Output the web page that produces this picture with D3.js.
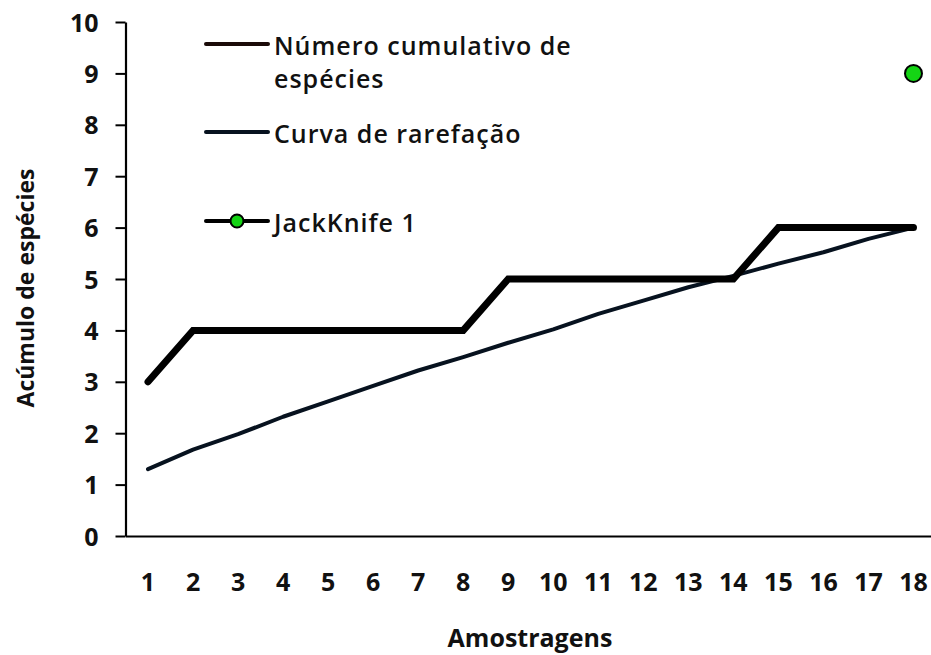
<!DOCTYPE html>
<html>
<head>
<meta charset="utf-8">
<script src="https://cdn.jsdelivr.net/npm/d3@7"></script>
<style>
  html, body { margin: 0; padding: 0; background: #fff; }
  svg { display: block; }
  svg text { font-family: "Open Sans", "Noto Sans", sans-serif; }
</style>
</head>
<body>
<div id="chart"></div>
<script>
const samples = d3.range(1, 19).map(String);
const cumulative = [3, 4, 4, 4, 4, 4, 4, 4, 5, 5, 5, 5, 5, 5, 6, 6, 6, 6];
const rarefaction = [1.3, 1.68, 1.98, 2.32, 2.62, 2.92, 3.22, 3.48, 3.76, 4.02, 4.32, 4.58, 4.84, 5.06, 5.3, 5.52, 5.78, 6.0];
const jackknife = [null, null, null, null, null, null, null, null, null, null, null, null, null, null, null, null, null, 9];
const yTicks = [0, 1, 2, 3, 4, 5, 6, 7, 8, 9, 10];
const legendLabels = [["Número cumulativo de", "espécies"], ["Curva de rarefação"], ["JackKnife 1"]];

const width = 931, height = 655;
const margin = { top: 22, right: -5, bottom: 119, left: 125.5 };
const FONT = '"Open Sans", "Noto Sans", sans-serif';

const svg = d3.select("#chart").append("svg")
    .attr("width", width)
    .attr("height", height);

const x = d3.scaleBand()
    .domain(samples)
    .range([margin.left, width - margin.right])
    .padding(0);

const y = d3.scaleLinear()
    .domain([0, 10])
    .range([height - margin.bottom, margin.top]);

const cx = (d, i) => x(samples[i]) + x.bandwidth() / 2;

// y axis
const yAxis = svg.append("g")
    .attr("transform", `translate(${margin.left},0)`)
    .attr("font-family", FONT)
    .call(d3.axisLeft(y).tickValues(yTicks).tickSize(10).tickPadding(17).tickSizeOuter(0));
yAxis.select(".domain").attr("stroke", "#000").attr("stroke-width", 2.2);
yAxis.selectAll(".tick line").attr("stroke", "#000").attr("stroke-width", 2);
yAxis.selectAll(".tick text")
    .attr("fill", "#111")
    .attr("dy", "0.36em")
    .style("font-size", "25px")
    .style("font-weight", 700);

// x axis
const xAxis = svg.append("g")
    .attr("transform", `translate(0,${y(0)})`)
    .attr("font-family", FONT)
    .call(d3.axisBottom(x).tickSize(0).tickPadding(37).tickSizeOuter(0));
xAxis.select(".domain").attr("stroke", "#000").attr("stroke-width", 2.2);
xAxis.selectAll(".tick text")
    .attr("fill", "#111")
    .style("font-size", "25px")
    .style("font-weight", 700);

// axis titles
svg.append("text")
    .attr("x", 530)
    .attr("y", 647)
    .attr("text-anchor", "middle")
    .attr("fill", "#111")
    .style("font-size", "25px")
    .style("font-weight", 700)
    .text("Amostragens");

svg.append("text")
    .attr("transform", `translate(34,288) rotate(-90)`)
    .attr("text-anchor", "middle")
    .attr("fill", "#111")
    .style("font-size", "23px")
    .style("font-weight", 700)
    .text("Acúmulo de espécies");

// lines
const line = d3.line()
    .x(cx)
    .y(d => y(d));

svg.append("path")
    .datum(rarefaction)
    .attr("d", line)
    .attr("fill", "none")
    .attr("stroke", "#07121f")
    .attr("stroke-width", 4)
    .attr("stroke-linecap", "round")
    .attr("stroke-linejoin", "round");

svg.append("path")
    .datum(cumulative)
    .attr("d", line)
    .attr("fill", "none")
    .attr("stroke", "#000")
    .attr("stroke-width", 7)
    .attr("stroke-linecap", "round")
    .attr("stroke-linejoin", "miter");

svg.append("g")
    .selectAll("circle")
    .data(jackknife.map((v, i) => ({ v, i })).filter(d => d.v !== null))
    .join("circle")
    .attr("cx", d => cx(d.v, d.i))
    .attr("cy", d => y(d.v))
    .attr("r", 8.5)
    .attr("fill", "#14d414")
    .attr("stroke", "#000")
    .attr("stroke-width", 2);

// legend
const legend = svg.append("g");
const legendRows = [44, 132, 221];
const lineStroke = ["#1a0a08", "#07121f", "#000"];

legendLabels.forEach((lines, i) => {
    const ly = legendRows[i];
    legend.append("line")
        .attr("x1", 206)
        .attr("x2", 268)
        .attr("y1", ly)
        .attr("y2", ly)
        .attr("stroke", lineStroke[i])
        .attr("stroke-width", 4)
        .attr("stroke-linecap", "round");
    if (i === 2) {
        legend.append("circle")
            .attr("cx", 237)
            .attr("cy", ly)
            .attr("r", 6.5)
            .attr("fill", "#14d414")
            .attr("stroke", "#000")
            .attr("stroke-width", 2);
    }
    lines.forEach((t, k) => {
        legend.append("text")
            .attr("x", 274)
            .attr("y", ly + 11 + k * 33)
            .attr("fill", "#111")
            .style("font-size", "25px")
            .style("font-weight", 600)
            .style("letter-spacing", "1px")
            .text(t);
    });
});
</script>
</body>
</html>
